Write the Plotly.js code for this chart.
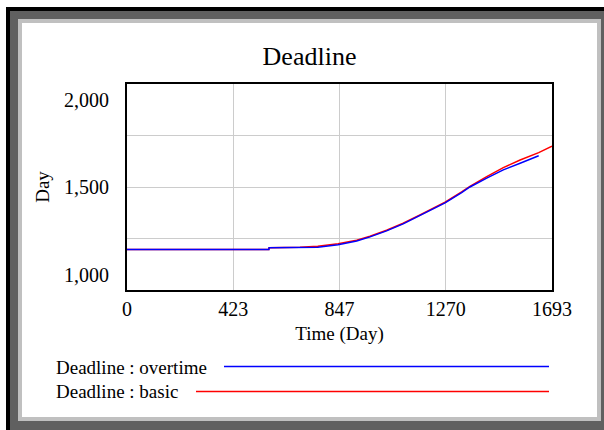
<!DOCTYPE html>
<html>
<head>
<meta charset="utf-8">
<script src="https://cdn.plot.ly/plotly-3.0.1.min.js"></script>
<style>
  html, body { margin: 0; padding: 0; background: #ffffff; width: 604px; height: 430px; overflow: hidden; }
  #frame { position: absolute; left: 6px; top: 7px; width: 598px; height: 423px; box-sizing: border-box;
           background: #606060; border-top: 4px solid #000; border-left: 4px solid #000; }
  #inner { position: absolute; left: 18px; top: 19px; width: 583px; height: 402px; background: #c0c0c0; }
  #chart { position: absolute; left: 22px; top: 23px; width: 575px; height: 394px; background: #fff; }
</style>
</head>
<body>
<div id="frame"></div>
<div id="inner"></div>
<div id="chart"></div>
<script>
// ---- data ----
var time = [0, 565, 566, 689, 760, 841, 915, 968, 1034, 1100, 1167, 1234, 1267, 1333, 1366, 1433, 1499, 1566, 1633, 1640, 1693];
var basic = [1197, 1197, 1205, 1207, 1212, 1224, 1242, 1261, 1290, 1324, 1364, 1403, 1426, 1476, 1503, 1550, 1594, 1631, 1664, 1667, 1698];
var overtime = [1197, 1197, 1205, 1206, 1208, 1220, 1238, 1258, 1287, 1321, 1361, 1400, 1423, 1473, 1500, 1543, 1583, 1615, 1649, 1652, null];
var xTickVals = [0, 423.25, 846.5, 1269.75, 1693];
var xTickText = ['0', '423', '847', '1270', '1693'];
var yTickVals = [1000, 1500, 2000];
var yTickText = ['1,000', '1,500', '2,000'];
var seriesNames = ['Deadline : overtime', 'Deadline : basic'];
var seriesColors = ['rgb(0,0,255)', 'rgb(255,0,0)'];

var FONT = 'Liberation Serif, Times New Roman, serif';

// plot area geometry (page pixels), used only for decorations
var PL = 127, PR = 552, PT = 84, PB = 290;
function px(xAbs) { return (xAbs - PL) / (PR - PL); }
function py(yAbs) { return (PB - yAbs) / (PB - PT); }

var traces = [
  { x: time, y: basic, name: seriesNames[1], type: 'scatter', mode: 'lines',
    line: { color: seriesColors[1], width: 1.5 }, showlegend: false, connectgaps: false },
  { x: time, y: overtime, name: seriesNames[0], type: 'scatter', mode: 'lines',
    line: { color: seriesColors[0], width: 1.5 }, showlegend: false, connectgaps: false }
];

var annotations = [];
yTickVals.forEach(function (v, i) {
  annotations.push({
    xref: 'paper', yref: 'y', x: 0, y: v, text: yTickText[i], showarrow: false,
    xanchor: 'right', yanchor: i === 0 ? 'bottom' : (i === yTickVals.length - 1 ? 'top' : 'middle'),
    xshift: -16, yshift: i === 0 ? 2 : (i === yTickVals.length - 1 ? -3 : 0),
    font: { family: FONT, size: 20, color: '#000' }
  });
});
// legend text
annotations.push({ xref: 'paper', yref: 'paper', x: px(54), y: py(367), text: seriesNames[0],
  showarrow: false, xanchor: 'left', yanchor: 'middle', font: { family: FONT, size: 19, color: '#000' } });
annotations.push({ xref: 'paper', yref: 'paper', x: px(54), y: py(391.5), text: seriesNames[1],
  showarrow: false, xanchor: 'left', yanchor: 'middle', font: { family: FONT, size: 19, color: '#000' } });

var shapes = [
  { type: 'line', xref: 'paper', yref: 'paper', x0: px(224), x1: px(549), y0: py(366.5), y1: py(366.5),
    line: { color: seriesColors[0], width: 1.5 } },
  { type: 'line', xref: 'paper', yref: 'paper', x0: px(196), x1: px(549), y0: py(391.5), y1: py(391.5),
    line: { color: seriesColors[1], width: 1.5 } }
];

var layout = {
  width: 575, height: 394,
  margin: { l: PL - 22, r: 597 - PR, t: PT - 23, b: 417 - PB, pad: 0 },
  paper_bgcolor: '#ffffff', plot_bgcolor: '#ffffff',
  font: { family: FONT, color: '#000' },
  title: { text: 'Deadline', font: { family: FONT, size: 26, color: '#000' },
           x: 0.5, xref: 'container', xanchor: 'center',
           y: 1 - (56 - 23) / 394, yref: 'container', yanchor: 'middle' },
  xaxis: {
    range: [0, 1693], tickmode: 'array', tickvals: xTickVals, ticktext: xTickText,
    showgrid: true, gridcolor: '#cccccc', gridwidth: 1, zeroline: false,
    showline: true, linecolor: '#000', linewidth: 2, mirror: true, ticks: '',
    tickfont: { family: FONT, size: 20, color: '#000' }, ticklabelstandoff: 0,
    title: { text: 'Time (Day)', font: { family: FONT, size: 19, color: '#000' }, standoff: 8 }
  },
  yaxis: {
    range: [1000, 2000], tickmode: 'linear', tick0: 1000, dtick: 250,
    showticklabels: false,
    showgrid: true, gridcolor: '#cccccc', gridwidth: 1, zeroline: false,
    showline: true, linecolor: '#000', linewidth: 2, mirror: true, ticks: '',
    title: { text: 'Day', font: { family: FONT, size: 19, color: '#000' }, standoff: 70 }
  },
  annotations: annotations,
  shapes: shapes,
  showlegend: false
};

Plotly.newPlot('chart', traces, layout, { staticPlot: true, displayModeBar: false });
</script>
</body>
</html>
